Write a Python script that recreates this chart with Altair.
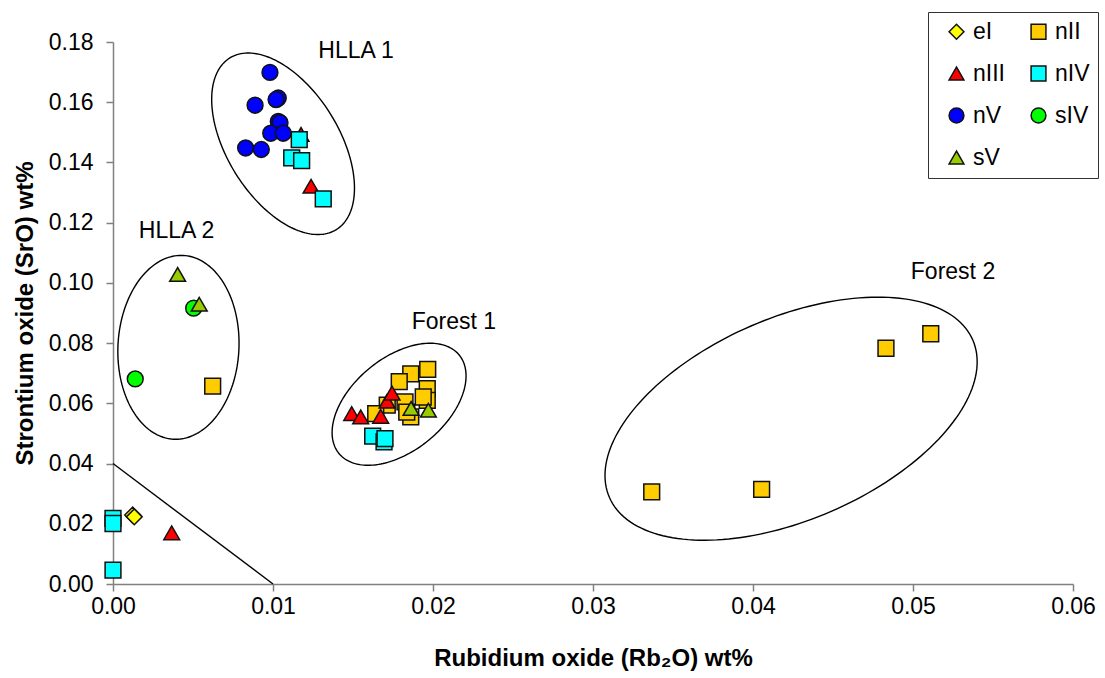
import altair as alt
import numpy as np
import pandas as pd

# ---- series definitions ----
series_names = ["eI", "nII", "nIII", "nIV", "nV", "sIV", "sV"]
series_colors = ["#FFFF00", "#FFCC00", "#FF0000", "#00FFFF", "#0000FF", "#00FF00", "#99CC00"]
series_shapes = ["diamond", "square", "triangle-up", "square", "circle", "circle", "triangle-up"]
# legend order (legend fills column by column: 4 rows x 2 columns)
legend_order = ["eI", "nIII", "nV", "sV", "nII", "nIV", "sIV"]

# ---- data (Rb2O wt%, SrO wt%) ----
eI_x = [0.00123, 0.00133]
eI_y = [0.0229, 0.0223]

nII_x = [0.01967, 0.01861, 0.01789, 0.01964, 0.01964, 0.01939, 0.01825, 0.01714, 0.01642, 0.01861, 0.01836,
         0.00623, 0.03367, 0.04054, 0.04831, 0.05111]
nII_y = [0.0713, 0.0698, 0.0672, 0.0649, 0.0610, 0.0621, 0.0605, 0.0594, 0.0566, 0.0555, 0.0571,
         0.0657, 0.0306, 0.0314, 0.0783, 0.0831]

nIII_x = [0.01175, 0.01238, 0.01492, 0.01548, 0.01673, 0.01713, 0.01744, 0.00367]
nIII_y = [0.1493, 0.1321, 0.0566, 0.0555, 0.0557, 0.0607, 0.0634, 0.0170]

nIV_x = [0.01164, 0.01117, 0.01179, 0.01314, 0.01623, 0.01694, 0.01700, 0.0, 0.0, 0.0]
nIV_y = [0.1476, 0.1415, 0.1406, 0.1279, 0.0491, 0.0472, 0.0483, 0.0218, 0.0201, 0.0046]

nV_x = [0.00981, 0.01033, 0.01019, 0.00888, 0.01033, 0.01044, 0.00986, 0.01064, 0.00829, 0.00927]
nV_y = [0.1699, 0.1614, 0.1609, 0.1590, 0.1536, 0.1532, 0.1497, 0.1497, 0.1448, 0.1443]

sIV_x = [0.00504, 0.00139]
sIV_y = [0.0916, 0.0681]

sV_x = [0.00404, 0.00539, 0.01863, 0.01971]
sV_y = [0.1028, 0.0929, 0.0583, 0.0577]

# ---- group annotations ----
group_labels = ["HLLA 1", "HLLA 2", "Forest 1", "Forest 2"]
label_x = [0.01519, 0.00397, 0.02131, 0.0525]
label_y = [0.1771, 0.1171, 0.0869, 0.1035]

# ellipses: centre (data units), semi-axes (px), rotation (deg)
ell_cx = [0.01063, 0.00409, 0.01788, 0.04238]
ell_cy = [0.1462, 0.0786, 0.0597, 0.0549]
ell_a = [101, 92, 77.7, 198]
ell_b = [56, 60.5, 46.6, 101]
ell_ang = [-58.2, 87, 39.3, 23.4]

# boundary line
line_x = [0.0, 0.01]
line_y = [0.04, 0.0]

# ---- layout ----
W, H = 960, 542
X_MAX, Y_MAX = 0.06, 0.18
px_x = W / X_MAX
px_y = H / Y_MAX

series_data = {
    "eI": (eI_x, eI_y), "nII": (nII_x, nII_y), "nIII": (nIII_x, nIII_y), "nIV": (nIV_x, nIV_y),
    "nV": (nV_x, nV_y), "sIV": (sIV_x, sIV_y), "sV": (sV_x, sV_y),
}
rows = []
order = 0
for name in series_names:
    xs, ys = series_data[name]
    for xv, yv in zip(xs, ys):
        rows.append({"series": name, "x": xv, "y": yv, "o": order})
        order += 1
pts = pd.DataFrame(rows)

ell_rows = []
t = np.linspace(0, 2 * np.pi, 181)
for i, name in enumerate(group_labels):
    th = np.deg2rad(ell_ang[i])
    dx = ell_a[i] * np.cos(t) * np.cos(th) - ell_b[i] * np.sin(t) * np.sin(th)
    dy = ell_a[i] * np.cos(t) * np.sin(th) + ell_b[i] * np.sin(t) * np.cos(th)
    for k in range(len(t)):
        ell_rows.append({"g": name, "k": k, "x": ell_cx[i] + dx[k] / px_x, "y": ell_cy[i] + dy[k] / px_y})
ell = pd.DataFrame(ell_rows)

labels = pd.DataFrame({"label": group_labels, "x": label_x, "y": label_y})
bline = pd.DataFrame({"x": line_x, "y": line_y})

color_range = [series_colors[series_names.index(s)] for s in legend_order]
shape_range = [series_shapes[series_names.index(s)] for s in legend_order]

FONT = "Liberation Sans"

xscale = alt.Scale(domain=[0, X_MAX], nice=False, zero=False)
yscale = alt.Scale(domain=[0, Y_MAX], nice=False, zero=False)

x_axis = alt.Axis(values=[0, 0.01, 0.02, 0.03, 0.04, 0.05, 0.06], format=".2f", grid=False,
                  title="Rubidium oxide (Rb₂O) wt%", tickSize=7, labelPadding=4, titlePadding=28,
                  labelFlush=False)
y_axis = alt.Axis(values=[0, 0.02, 0.04, 0.06, 0.08, 0.10, 0.12, 0.14, 0.16, 0.18], format=".2f", grid=False,
                  title="Strontium oxide (SrO) wt%", tickSize=7, labelPadding=13, titlePadding=11,
                  labelFlush=False)

legend = alt.Legend(orient="none", legendX=815, legendY=-30, columns=2, title=None,
                    strokeColor="#333333", fillColor="white", padding=8, symbolOffset=9,
                    labelFontSize=23, labelFont=FONT, labelColor="black", symbolSize=220,
                    symbolStrokeColor="#111111", symbolStrokeWidth=1.5,
                    rowPadding=18, columnPadding=13, labelOffset=5)

points = alt.Chart(pts).mark_point(filled=True, size=250, stroke="#111111", strokeWidth=1.5, opacity=1).encode(
    x=alt.X("x:Q", scale=xscale, axis=x_axis),
    y=alt.Y("y:Q", scale=yscale, axis=y_axis),
    color=alt.Color("series:N", scale=alt.Scale(domain=legend_order, range=color_range), legend=legend),
    shape=alt.Shape("series:N", scale=alt.Scale(domain=legend_order, range=shape_range), legend=legend),
    order=alt.Order("o:Q"),
)

ellipses = alt.Chart(ell).mark_line(color="black", strokeWidth=1.4).encode(
    x=alt.X("x:Q", scale=xscale, axis=x_axis),
    y=alt.Y("y:Q", scale=yscale, axis=y_axis),
    detail="g:N",
    order="k:Q",
)

boundary = alt.Chart(bline).mark_line(color="black", strokeWidth=1.4).encode(
    x=alt.X("x:Q", scale=xscale, axis=x_axis),
    y=alt.Y("y:Q", scale=yscale, axis=y_axis),
)

texts = alt.Chart(labels).mark_text(fontSize=23, font=FONT, color="black").encode(
    x=alt.X("x:Q", scale=xscale, axis=x_axis),
    y=alt.Y("y:Q", scale=yscale, axis=y_axis),
    text="label:N",
)

chart = alt.layer(ellipses, boundary, texts, points).properties(
    width=W, height=H,
    autosize=alt.AutoSizeParams(type="none"),
    padding={"left": 113, "top": 42, "right": 32, "bottom": 94},
    background="white",
).configure_view(stroke=None).configure_axis(
    labelFont=FONT, labelFontSize=23, labelColor="black",
    titleFont=FONT, titleFontSize=24, titleFontWeight="bold", titleColor="black",
    domainColor="#808080", domainWidth=1.5, tickColor="#808080", tickWidth=1.5,
)

chart.save("out.html", embed_options={"renderer": "svg", "actions": False})
